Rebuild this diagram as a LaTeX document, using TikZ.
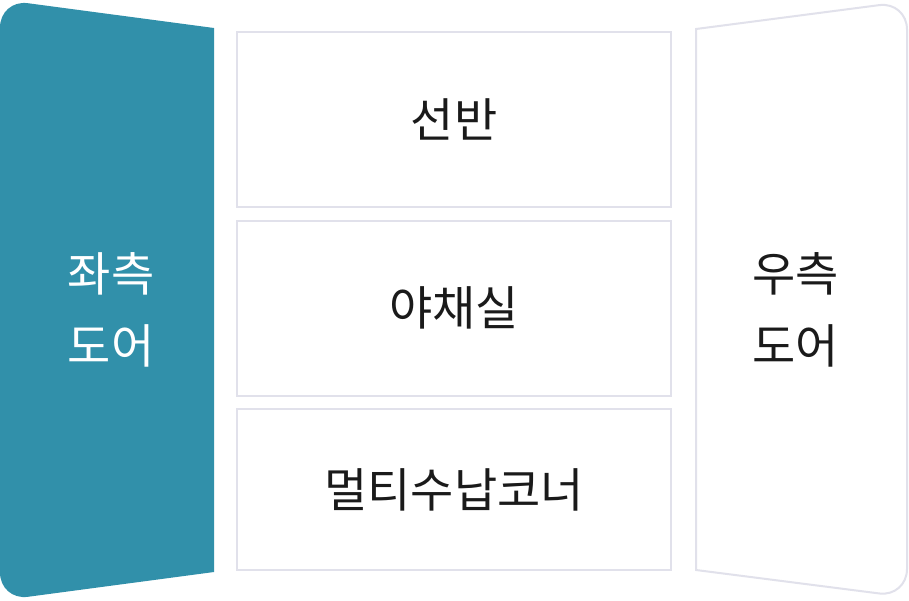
\documentclass[tikz,border=0pt]{standalone}
\usepackage{fontspec}
\newfontfamily\krfont{Noto Sans CJK KR}
\definecolor{doorteal}{HTML}{3190AA}
\definecolor{edgegray}{HTML}{E1E1EB}
\definecolor{inkblack}{HTML}{1A1A1A}
\begin{document}
\begin{tikzpicture}[x=1pt,y=-1pt,
  cell/.style={draw=edgegray, line width=2pt, fill=white, minimum width=434pt,
    text=inkblack, font=\krfont\fontsize{47}{54}\selectfont, inner sep=0pt},
  doortext/.style={align=center, font=\krfont\fontsize{47}{72}\selectfont, inner sep=0pt}]
\useasboundingbox (0,0) rectangle (909,600);
\fill[white] (0,0) rectangle (909,600);
% left door
\fill[doorteal] (214,28) [rounded corners=28pt] -- (0,-0.5) -- (0,600.5) [sharp corners] -- (214,572) -- cycle;
% right door
\draw[edgegray, line width=2pt, line join=miter] (696,29) [rounded corners=28pt] -- (907,1.5) -- (907,597) [sharp corners] -- (696,570) -- cycle;
% middle compartments
\node[cell, minimum height=175pt] (shelf) at (454,119.5) {선반};
\node[cell, minimum height=175.5pt] (veg) at (454,308.25) {야채실};
\node[cell, minimum height=161pt] (multi) at (454,489.5) {멀티수납코너};
% door labels
\node[doortext, text=white] (leftdoor) at (111,309.5) {좌측\\도어};
\node[doortext, text=inkblack] (rightdoor) at (795.5,309.5) {우측\\도어};
\end{tikzpicture}
\end{document}
